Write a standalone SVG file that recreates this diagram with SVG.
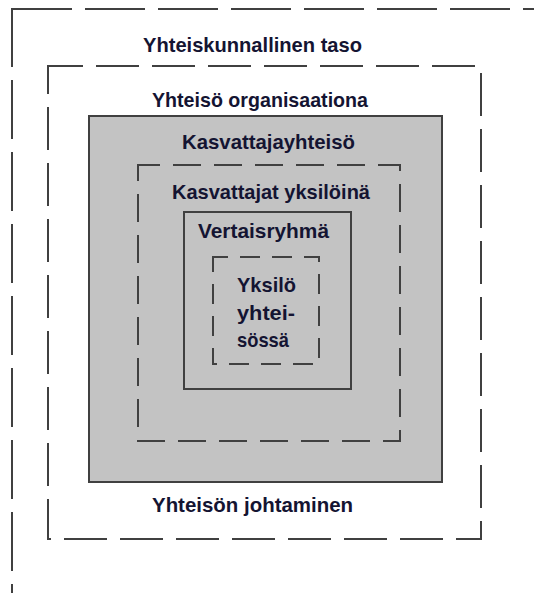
<svg xmlns="http://www.w3.org/2000/svg" width="534" height="593" viewBox="0 0 534 593">
<style>
.ln{fill:none;stroke:#404040;stroke-width:2}
.t{font-family:"Liberation Sans",Arial,sans-serif;font-weight:bold;font-size:21px;fill:#141432}
</style>
<rect width="534" height="593" fill="#ffffff"/>
<g id="yhteiskunnallinen-taso">
<line class="ln" x1="12" y1="9" x2="540" y2="9" stroke-dasharray="60 13"/>
<line class="ln" x1="12" y1="8" x2="12" y2="600" stroke-dasharray="59 13"/>
<text class="t" x="143" y="52" textLength="219" lengthAdjust="spacingAndGlyphs">Yhteiskunnallinen taso</text>
</g>
<g id="yhteiso-organisaationa">
<rect class="ln" x="48" y="66" width="433" height="473" stroke-dasharray="43 13" stroke-dashoffset="8"/>
<text class="t" x="152" y="107" textLength="216" lengthAdjust="spacingAndGlyphs">Yhteisö organisaationa</text>
<text class="t" x="152" y="512" textLength="201" lengthAdjust="spacingAndGlyphs">Yhteisön johtaminen</text>
</g>
<g id="kasvattajayhteiso">
<rect x="89" y="116" width="353" height="366" fill="#c3c3c3" stroke="#404040" stroke-width="2"/>
<text class="t" x="182" y="149" textLength="173" lengthAdjust="spacingAndGlyphs">Kasvattajayhteisö</text>
</g>
<g id="kasvattajat-yksiloina">
<rect class="ln" x="138" y="165" width="262" height="276" stroke-dasharray="28 13" stroke-dashoffset="6"/>
<text class="t" x="172" y="199" textLength="198" lengthAdjust="spacingAndGlyphs">Kasvattajat yksilöinä</text>
</g>
<g id="vertaisryhma">
<rect class="ln" x="184" y="212" width="167" height="177"/>
<text class="t" x="198" y="238" textLength="131" lengthAdjust="spacingAndGlyphs">Vertaisryhmä</text>
</g>
<g id="yksilo-yhteisossa">
<rect class="ln" x="213" y="257" width="106" height="107" stroke-dasharray="20 12" stroke-dashoffset="5"/>
<text class="t" x="237" y="292" textLength="59" lengthAdjust="spacingAndGlyphs">Yksilö</text>
<text class="t" x="237" y="320" textLength="58" lengthAdjust="spacingAndGlyphs">yhtei-</text>
<text class="t" x="237" y="347" textLength="52" lengthAdjust="spacingAndGlyphs">sössä</text>
</g>
<g id="connectors"/>
</svg>
